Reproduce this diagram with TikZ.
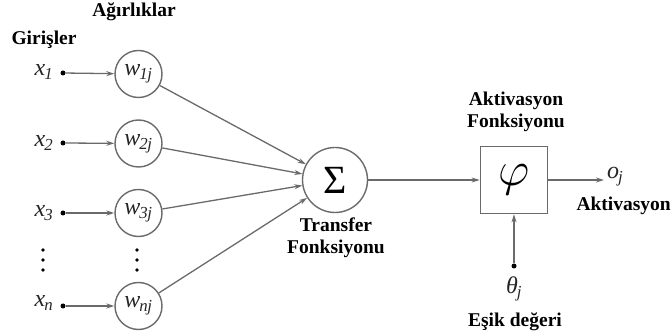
\documentclass[tikz,border=0pt]{standalone}
\usepackage{graphicx}
\usepackage{fontspec}
\setmainfont{Liberation Serif}
\usetikzlibrary{arrows.meta}
\definecolor{ink}{HTML}{262626}
\definecolor{edge}{HTML}{6A6A6A}
\tikzset{
  wnode/.style={circle, draw=edge, line width=1.4pt, minimum size=47pt, inner sep=0pt, text=ink, font=\fontsize{24}{24}\selectfont\itshape},
  sumnode/.style={circle, draw=edge, line width=1.4pt, minimum size=65pt, inner sep=0pt, text=black},
  actbox/.style={rectangle, draw=edge, line width=1.6pt, minimum size=67pt, inner sep=0pt, text=black},
  lbl/.style={font=\fontsize{19.5}{22}\selectfont\bfseries, text=black, align=center},
  xlbl/.style={font=\fontsize{24}{24}\selectfont\itshape, text=ink},
  conn/.style={draw=edge, line width=1.3pt, -{Stealth[length=8pt,width=5pt]}},
  srcdot/.style={circle, fill=black, inner sep=0pt, minimum size=5pt},
  vdots/.style={circle, fill=black, inner sep=0pt, minimum size=3.8pt}
}
\newcommand{\sub}[1]{\textsubscript{\kern-1pt #1}}
\begin{document}
\begin{tikzpicture}[x=1pt, y=-1pt]
\useasboundingbox (0,0) rectangle (672,336);

% headings
\node[lbl] (agir) at (134,12) {Ağırlıklar};
\node[lbl] (giris) at (44,40) {Girişler};

% inputs
\node[xlbl] (x1) at (44,72) {x\sub{\textit{1}}};
\node[xlbl] (x2) at (44,143) {x\sub{2}};
\node[xlbl] (x3) at (44,213) {x\sub{3}};
\node[xlbl] (xn) at (44,303) {x\sub{\textit{n}}};

\node[srcdot] (d1) at (63,73) {};
\node[srcdot] (d2) at (63,143) {};
\node[srcdot] (d3) at (63,213) {};
\node[srcdot] (dn) at (63,306) {};

% weights
\node[wnode] (w1) at (138.5,74) {w\sub{1\kern-0.5pt j}};
\node[wnode] (w2) at (138.5,143.5) {w\sub{2\kern-0.5pt j}};
\node[wnode] (w3) at (138.5,213) {w\sub{3\kern-0.5pt j}};
\node[wnode] (wn) at (138.5,306) {w\sub{n\kern-0.5pt j}};

% vertical ellipsis
\foreach \yy in {250,260,270} {
  \node[vdots] at (43,\yy) {};
  \node[vdots] at (137,\yy) {};
}

% summation
\node[sumnode] (sig) at (335,180) {\fontsize{40}{40}\selectfont Σ};
\node[lbl] (trans) at (336,238) {Transfer\\Fonksiyonu};

% activation
\node[actbox] (phi) at (514,180) {\scalebox{1.95}{\fontsize{24}{24}\selectfont$\varphi$}};
\node[lbl] (actf) at (516,112) {Aktivasyon\\Fonksiyonu};
\coordinate (oend) at (604,180);
\node[xlbl, anchor=west, inner sep=0pt] (oj) at (607,177) {o\sub{j}};
\node[lbl, anchor=east, inner sep=0pt] (actout) at (671,206) {Aktivasyon};

% threshold
\node[srcdot] (th) at (514,266) {};
\node[xlbl] (theta) at (514,289) {θ\sub{j}};
\node[lbl] (esik) at (515,322) {Eşik değeri};

% connectors
\draw[conn] (d1) -- (w1);
\draw[conn] (d2) -- (w2);
\draw[conn] (d3) -- (w3);
\draw[conn] (dn) -- (wn);
\draw[conn] (w1) -- (sig);
\draw[conn] (w2) -- (sig);
\draw[conn] (w3) -- (sig);
\draw[conn] (wn) -- (sig);
\draw[conn] (sig) -- (phi);
\draw[conn] (phi) -- (oend);
\draw[conn] (th) -- (phi);
\end{tikzpicture}
\end{document}
